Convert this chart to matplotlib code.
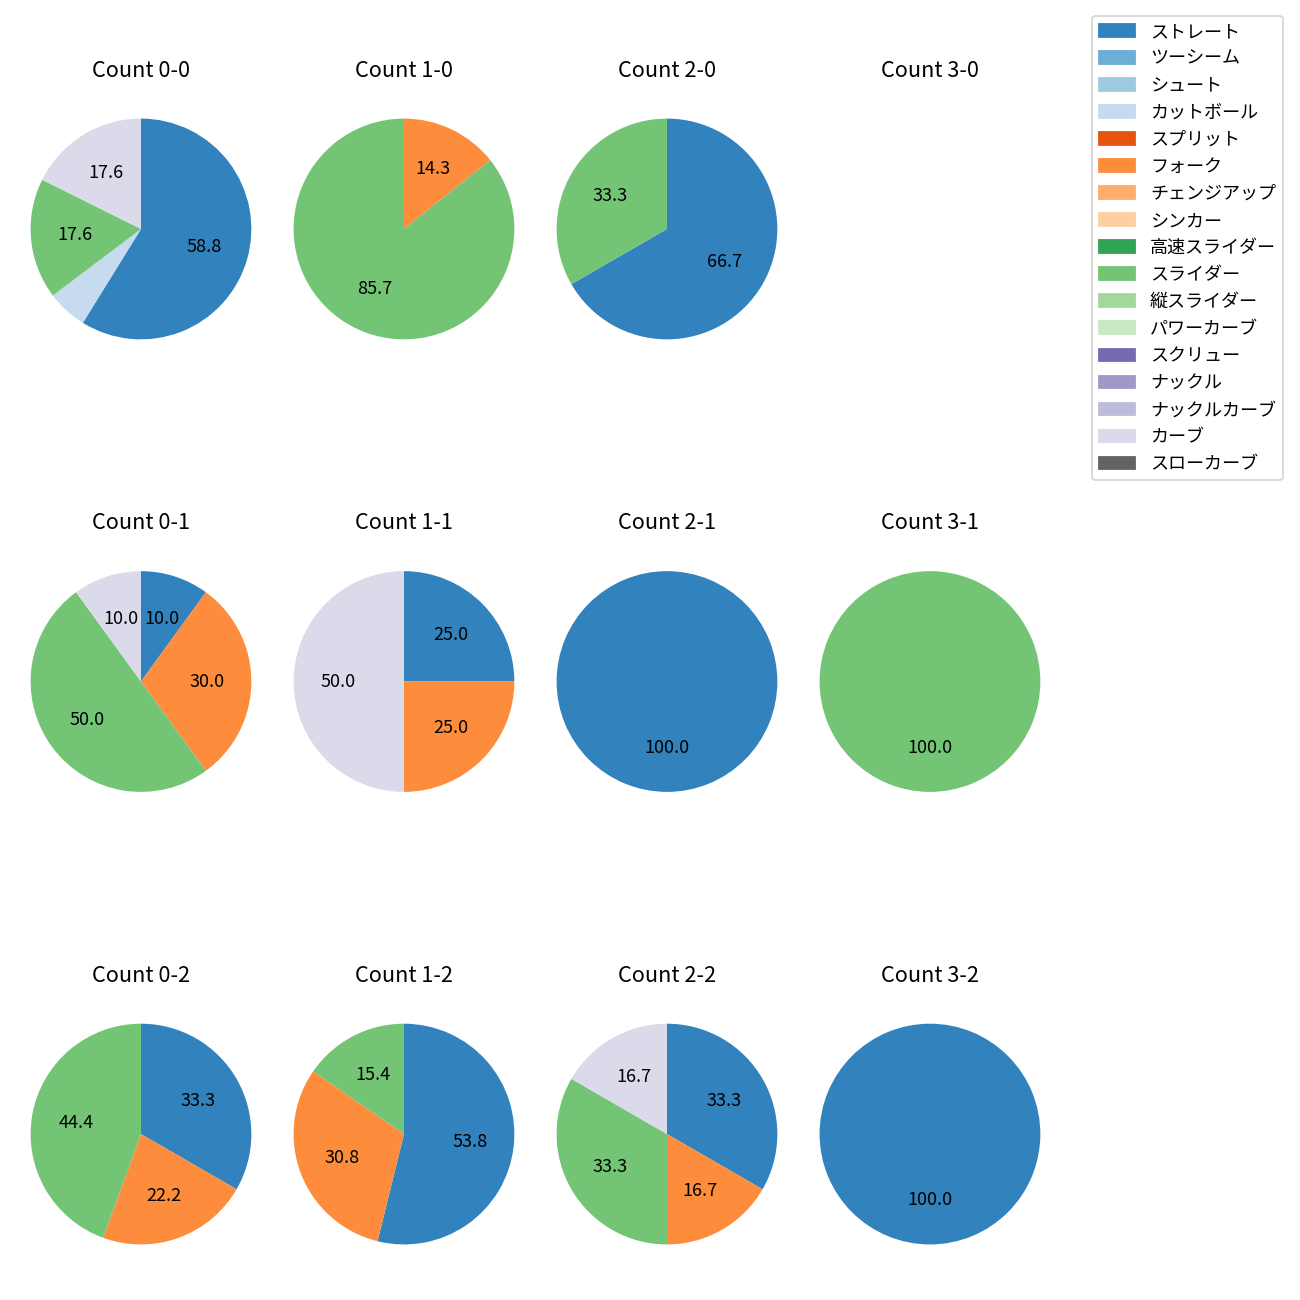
import matplotlib
matplotlib.use("Agg")
import matplotlib.pyplot as plt

plt.rcParams["font.family"] = ["Noto Sans CJK JP", "DejaVu Sans"]

# --- Data ---
PITCH_TYPES = [
    "ストレート", "ツーシーム", "シュート", "カットボール", "スプリット", "フォーク",
    "チェンジアップ", "シンカー", "高速スライダー", "スライダー", "縦スライダー",
    "パワーカーブ", "スクリュー", "ナックル", "ナックルカーブ", "カーブ", "スローカーブ",
]

# pitch counts per ball-strike count (only non-zero types listed)
count_0_0 = {"ストレート": 10, "カットボール": 1, "スライダー": 3, "カーブ": 3}
count_1_0 = {"フォーク": 1, "スライダー": 6}
count_2_0 = {"ストレート": 2, "スライダー": 1}
count_3_0 = {}
count_0_1 = {"ストレート": 1, "フォーク": 3, "スライダー": 5, "カーブ": 1}
count_1_1 = {"ストレート": 1, "フォーク": 1, "カーブ": 2}
count_2_1 = {"ストレート": 1}
count_3_1 = {"スライダー": 1}
count_0_2 = {"ストレート": 3, "フォーク": 2, "スライダー": 4}
count_1_2 = {"ストレート": 7, "フォーク": 4, "スライダー": 2}
count_2_2 = {"ストレート": 2, "フォーク": 1, "スライダー": 2, "カーブ": 1}
count_3_2 = {"ストレート": 1}

GRID = [
    [("Count 0-0", count_0_0), ("Count 1-0", count_1_0), ("Count 2-0", count_2_0), ("Count 3-0", count_3_0)],
    [("Count 0-1", count_0_1), ("Count 1-1", count_1_1), ("Count 2-1", count_2_1), ("Count 3-1", count_3_1)],
    [("Count 0-2", count_0_2), ("Count 1-2", count_1_2), ("Count 2-2", count_2_2), ("Count 3-2", count_3_2)],
]

cmap = plt.get_cmap("tab20c")
COLORS = {name: cmap(i) for i, name in enumerate(PITCH_TYPES)}


def autopct(pct):
    # hide the tiny slices
    return f"{pct:.1f}" if pct >= 7 else ""


fig, axes = plt.subplots(3, 4, figsize=(10, 10))
fig.subplots_adjust(left=0.0023, right=0.8215, top=0.93, bottom=0.0215,
                    wspace=-0.047, hspace=0.64)

for r, row in enumerate(GRID):
    for c, (title, counts) in enumerate(row):
        ax = axes[r, c]
        ax.set_title(title, fontsize=12, pad=8)
        if not counts:
            ax.set_aspect("equal")
            ax.axis("off")
            continue
        names = [n for n in PITCH_TYPES if n in counts]
        vals = [counts[n] for n in names]
        ax.pie(vals, colors=[COLORS[n] for n in names], startangle=90,
               counterclock=False, autopct=autopct, textprops={"fontsize": 10})
        ax.set_aspect("equal")

handles = [plt.Rectangle((0, 0), 1, 1, color=COLORS[n]) for n in PITCH_TYPES]
fig.legend(handles, PITCH_TYPES, loc="upper right", bbox_to_anchor=(0.987, 0.988),
           borderaxespad=0, fontsize=10)

fig.savefig("out.png", dpi=130)
